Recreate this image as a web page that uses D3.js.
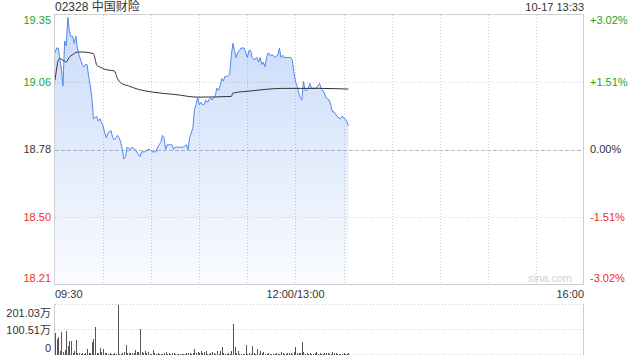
<!DOCTYPE html>
<html>
<head>
<meta charset="utf-8">
<script src="https://cdn.jsdelivr.net/npm/d3@7"></script>
<style>
  html, body { margin: 0; padding: 0; background: #fff; }
  svg text { font-family: "Liberation Sans", Arial, "Noto Sans CJK SC", sans-serif; }
</style>
</head>
<body>
<div id="chart"></div>
<script>
const title = '02328 中国财险';
const stamp = '10-17 13:33';
const prevClose = 18.78;

const priceTimes = ['09:30','09:31','09:32','09:34','09:35','09:36','09:37','09:38','09:39','09:40',
  '09:41','09:42','09:43','09:44','09:45','09:47','09:48','09:49','09:50','09:51',
  '09:52','09:53','09:54','09:56','09:57','09:58','10:00','10:01','10:02','10:03',
  '10:05','10:06','10:07','10:09','10:10','10:11','10:12','10:13','10:14','10:15',
  '10:17','10:18','10:20','10:22','10:23','10:24','10:26','10:28','10:29','10:31',
  '10:33','10:34','10:36','10:37','10:38','10:39','10:40','10:42','10:43','10:44',
  '10:45','10:48','10:50','10:52','10:53','10:54','10:55','10:56','10:57','10:58',
  '10:59','11:00','11:01','11:02','11:03','11:04','11:05','11:06','11:07','11:08',
  '11:09','11:10','11:11','11:12','11:13','11:14','11:15','11:16','11:17','11:18',
  '11:19','11:20','11:21','11:22','11:23','11:24','11:25','11:26','11:28','11:30',
  '11:31','11:32','11:33','11:34','11:36','11:37','11:38','11:39','11:40','11:41',
  '11:42','11:43','11:44','11:46','11:47','11:49','11:50','11:51','11:52','11:53',
  '11:55','11:57','11:58','11:59','13:00','13:01','13:02','13:03','13:04','13:05',
  '13:06','13:07','13:08','13:09','13:10','13:11','13:13','13:14','13:15','13:16',
  '13:18','13:19','13:21','13:22','13:23','13:24','13:25','13:26','13:28','13:29',
  '13:31','13:32','13:33'];
const prices = [19.19,19.21,19.21,19.12,19.05,19.24,19.22,19.34,19.28,19.26,
  19.26,19.23,19.26,19.21,19.18,19.14,19.13,19.14,19.14,19.09,
  19.05,19.00,18.91,18.92,18.90,18.91,18.88,18.85,18.83,18.85,
  18.86,18.83,18.82,18.84,18.83,18.81,18.78,18.74,18.75,18.79,
  18.78,18.79,18.78,18.76,18.75,18.77,18.77,18.78,18.78,18.77,
  18.77,18.79,18.81,18.84,18.83,18.78,18.80,18.80,18.80,18.78,
  18.79,18.79,18.79,18.80,18.78,18.83,18.85,18.87,18.95,18.97,
  19.00,18.97,18.98,18.97,18.97,18.99,18.98,18.99,19.00,18.99,
  19.00,19.01,19.04,19.03,19.05,19.08,19.07,19.09,19.09,19.09,
  19.10,19.18,19.23,19.20,19.17,19.19,19.20,19.21,19.21,19.17,
  19.20,19.20,19.17,19.16,19.17,19.15,19.17,19.14,19.15,19.13,
  19.17,19.19,19.18,19.18,19.17,19.18,19.21,19.17,19.18,19.17,
  19.17,19.17,19.16,19.11,19.07,19.05,19.02,19.00,18.99,19.07,
  19.03,19.03,19.04,19.06,19.04,19.04,19.04,19.05,19.06,19.04,
  19.02,19.00,18.99,18.97,18.94,18.94,18.93,18.92,18.91,18.92,
  18.91,18.90,18.88];

const avgTimes = ['09:30','09:31','09:32','09:33','09:35','09:37','09:39','09:41','09:44','09:48',
  '09:52','09:54','09:55','09:56','09:58','10:01','10:04','10:07','10:09','10:11',
  '10:16','10:22','10:30','10:45','10:59','11:20','11:21','11:32','11:52','13:15','13:33'];
const avgPrices = [19.073,19.122,19.158,19.165,19.158,19.151,19.172,19.182,19.193,19.193,
  19.189,19.186,19.165,19.137,19.130,19.120,19.116,19.113,19.080,19.063,
  19.049,19.035,19.024,19.013,19.002,19.005,19.019,19.028,19.039,19.039,19.036];

// one value per minute from 09:30 (万股); 12:00 and 13:00 share a slot
const volumes = [90,64,74,17,94,13,20,98,36,58, 58,7,17,60,9,7,4,7,4,7,
  24,9,9,54,64,114,7,7,27,13, 23,7,7,4,9,4,4,9,4,201,
  4,4,9,13,40,7,9,9,7,9, 20,13,13,104,13,7,16,9,13,4,
  4,20,7,4,7,3,4,3,9,13, 4,7,4,7,9,4,4,3,4,4,
  4,3,7,9,7,4,7,24,10,13, 9,16,7,13,16,4,4,9,13,9,
  4,17,4,17,33,9,4,4,7,4, 17,124,33,7,17,4,4,4,4,40,
  4,9,4,36,7,4,23,4,17,9, 13,4,4,9,4,4,4,3,7,4,
  4,13,7,4,4,7,7,7,4,13, 33,9,7,7,54,13,4,7,4,9,
  4,4,7,13,4,7,4,4,7,9, 7,4,4,13,9,7,4,4,4,4,
  7,4,4,7];

const priceTickLabels = ['19.35','19.06','18.78','18.50','18.21'];
const pctTickLabels = ['+3.02%','+1.51%','0.00%','-1.51%','-3.02%'];
const volTickLabels = ['201.03万','100.51万','0'];
const volMax = 201.03;
const timeLabels = ['09:30','12:00/13:00','16:00'];

const width = 640, height = 360;
const plotLeft = 55, plotRight = 584;
const plotTop = 15, plotBottom = 284;
const vTop = 305, vBottom = 355;
const green = '#1ea31e', red = '#f02c2c', ink = '#333';

// trading minutes since 09:30, lunch break folded out
function toMin(t) {
  const [h, m] = t.split(':').map(Number);
  const mm = h * 60 + m;
  return mm <= 720 ? mm - 570 : mm - 780 + 150;
}

const x = d3.scaleLinear().domain([0, 330]).range([plotLeft, plotRight]);
const y = d3.scaleLinear().domain([18.21, 19.35]).range([plotBottom, plotTop]);
const yv = d3.scaleLinear().domain([0, volMax]).range([vBottom, vTop]);

const svg = d3.select('#chart').append('svg')
  .attr('width', width)
  .attr('height', height);

const defs = svg.append('defs');
const grad = defs.append('linearGradient')
  .attr('id', 'fill')
  .attr('gradientUnits', 'userSpaceOnUse')
  .attr('x1', 0).attr('y1', plotTop).attr('x2', 0).attr('y2', plotBottom);
grad.append('stop').attr('offset', '0%').attr('stop-color', '#5a8ff0').attr('stop-opacity', 0.33);
grad.append('stop').attr('offset', '100%').attr('stop-color', '#5a8ff0').attr('stop-opacity', 0.03);

// price grid
const priceTickVals = d3.range(5).map(i => 19.35 - i * (19.35 - 18.21) / 4);
const grid = svg.append('g').attr('shape-rendering', 'crispEdges');

grid.selectAll('.vgrid')
  .data(d3.range(30, 330, 30))
  .enter().append('line')
  .attr('x1', d => Math.round(x(d)) + 0.5)
  .attr('x2', d => Math.round(x(d)) + 0.5)
  .attr('y1', plotTop).attr('y2', plotBottom)
  .attr('stroke', '#cfcfcf')
  .attr('stroke-dasharray', '1,2');

grid.selectAll('.hgrid')
  .data(priceTickVals.slice(1, 4))
  .enter().append('line')
  .attr('x1', plotLeft).attr('x2', plotRight)
  .attr('y1', d => Math.round(y(d)) + 0.5)
  .attr('y2', d => Math.round(y(d)) + 0.5)
  .attr('stroke', (d, i) => i === 1 ? '#b8b8b8' : '#cfcfcf')
  .attr('stroke-dasharray', (d, i) => i === 1 ? '4,2' : '1,2');

// area and lines
const pts = priceTimes.map((t, i) => ({ m: toMin(t), p: prices[i] }));
const avgPts = avgTimes.map((t, i) => ({ m: toMin(t), p: avgPrices[i] }));

svg.append('path')
  .datum(pts)
  .attr('fill', 'url(#fill)')
  .attr('d', d3.area().x(d => x(d.m)).y0(plotBottom).y1(d => y(d.p)));

svg.append('path')
  .datum(pts)
  .attr('fill', 'none')
  .attr('stroke', '#4f88f0')
  .attr('stroke-width', 1)
  .attr('d', d3.line().x(d => x(d.m)).y(d => y(d.p)));

svg.append('path')
  .datum(avgPts)
  .attr('fill', 'none')
  .attr('stroke', '#333')
  .attr('stroke-width', 1)
  .attr('d', d3.line().x(d => x(d.m)).y(d => y(d.p)).curve(d3.curveMonotoneX));

// frame
const frame = svg.append('g')
  .attr('shape-rendering', 'crispEdges')
  .attr('stroke', '#cfcfcf')
  .attr('fill', 'none');
frame.append('rect')
  .attr('x', plotLeft - 0.5).attr('y', plotTop - 0.5)
  .attr('width', plotRight - plotLeft).attr('height', plotBottom - plotTop + 0.5);

// labels
const txt = svg.append('g').attr('font-size', 11);
const labelColor = i => i < 2 ? green : (i === 2 ? ink : red);
const edgeShift = [5, 0, 0, 0, -6];

txt.selectAll('.pl')
  .data(priceTickLabels)
  .enter().append('text')
  .attr('x', plotLeft - 4)
  .attr('y', (d, i) => y(priceTickVals[i]) + edgeShift[i])
  .attr('dy', '0.35em')
  .attr('text-anchor', 'end')
  .attr('fill', (d, i) => labelColor(i))
  .text(d => d);

txt.selectAll('.pr')
  .data(pctTickLabels)
  .enter().append('text')
  .attr('x', plotRight + 6)
  .attr('y', (d, i) => y(priceTickVals[i]) + edgeShift[i])
  .attr('dy', '0.35em')
  .attr('fill', (d, i) => labelColor(i))
  .text(d => d);

txt.append('text')
  .attr('x', plotLeft).attr('y', 7).attr('dy', '0.35em')
  .attr('font-size', 12).attr('fill', ink)
  .text(title);

txt.append('text')
  .attr('x', plotRight).attr('y', 7).attr('dy', '0.35em')
  .attr('text-anchor', 'end').attr('fill', ink)
  .text(stamp);

txt.append('text')
  .attr('x', plotRight - 12).attr('y', plotBottom - 6).attr('dy', '0.35em')
  .attr('text-anchor', 'end').attr('fill', '#d0d0d0')
  .text('sina.com');

const timeMins = [0, 150, 330];
const timeAnchor = ['start', 'middle', 'end'];
txt.selectAll('.tl')
  .data(timeLabels)
  .enter().append('text')
  .attr('x', (d, i) => x(timeMins[i]))
  .attr('y', 294)
  .attr('dy', '0.35em')
  .attr('text-anchor', (d, i) => timeAnchor[i])
  .attr('fill', ink)
  .text(d => d);

// volume panel
const vol = svg.append('g').attr('shape-rendering', 'crispEdges');
const volTickVals = [volMax, volMax / 2, 0];

vol.selectAll('.vh')
  .data(volTickVals)
  .enter().append('line')
  .attr('x1', plotLeft).attr('x2', plotRight)
  .attr('y1', d => Math.round(yv(d)) - 0.5)
  .attr('y2', d => Math.round(yv(d)) - 0.5)
  .attr('stroke', '#cfcfcf')
  .attr('stroke-dasharray', '1,2');

vol.append('line')
  .attr('x1', plotLeft - 0.5).attr('x2', plotLeft - 0.5)
  .attr('y1', vTop - 1).attr('y2', vBottom)
  .attr('stroke', '#cfcfcf');
vol.append('line')
  .attr('x1', plotRight - 0.5).attr('x2', plotRight - 0.5)
  .attr('y1', vTop - 1).attr('y2', vBottom)
  .attr('stroke', '#cfcfcf');

vol.selectAll('.bar')
  .data(volumes)
  .enter().append('rect')
  .attr('x', (d, i) => Math.round(x(i)))
  .attr('y', d => yv(d))
  .attr('width', 1)
  .attr('height', d => vBottom - yv(d))
  .attr('fill', '#555');

const volShift = [8, 0, -7];
txt.selectAll('.vl')
  .data(volTickLabels)
  .enter().append('text')
  .attr('x', plotLeft - 4)
  .attr('y', (d, i) => yv(volTickVals[i]) + volShift[i])
  .attr('dy', '0.35em')
  .attr('text-anchor', 'end')
  .attr('fill', ink)
  .text(d => d);
</script>
</body>
</html>
